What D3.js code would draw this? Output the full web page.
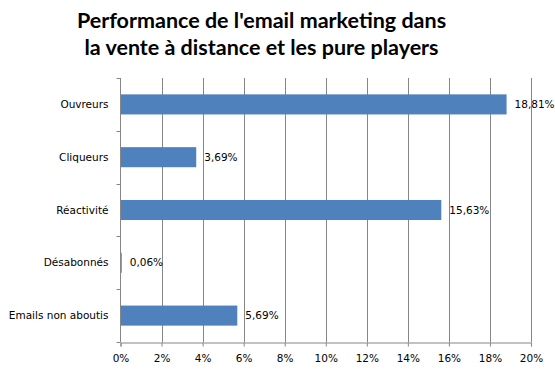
<!DOCTYPE html>
<html>
<head>
	<meta charset="utf-8">
	<title>Performance email marketing</title>
	<script src="https://cdn.jsdelivr.net/npm/d3@7"></script>
	<style>
		body { margin: 0; background: #fff; }
	</style>
</head>
<body>
	<div id="chart"></div>
	<script>

	// data
	const categories = ["Ouvreurs", "Cliqueurs", "Réactivité", "Désabonnés", "Emails non aboutis"];
	const values     = [18.81, 3.69, 15.63, 0.06, 5.69];
	const valueLabels = ["18,81%", "3,69%", "15,63%", "0,06%", "5,69%"];
	const xTicks     = [0, 2, 4, 6, 8, 10, 12, 14, 16, 18, 20];
	const titleLines = ["Performance de l'email marketing dans", "la vente à distance et les pure players"];

	const width  = 555;
	const height = 372;
	const margin = { top: 78, right: 24, bottom: 30, left: 120.5 };
	const barColor  = "#4f81bd";
	const gridColor = "#868686";
	const labelFont = "'DejaVu Sans', sans-serif";

	const svg = d3.select("#chart")
		.append("svg")
		.attr("width", width)
		.attr("height", height);

	svg.append("g")
		.selectAll("text")
		.data(titleLines)
		.join("text")
		.attr("x", 261.5)
		.attr("y", (d, i) => 28 + i * 27)
		.attr("text-anchor", "middle")
		.attr("font-family", "Lato, sans-serif")
		.attr("font-weight", "bold")
		.attr("font-size", 21.5)
		.attr("fill", "#000")
		.text(d => d);

	const x = d3.scaleLinear()
		.domain([0, 20])
		.range([margin.left, width - margin.right]);

	const y = d3.scaleBand()
		.domain(categories)
		.range([margin.top, height - margin.bottom])
		.paddingInner(0.62)
		.paddingOuter(0.31);

	// gridlines
	svg.append("g")
		.selectAll("line")
		.data(xTicks.slice(1))
		.join("line")
		.attr("x1", d => Math.round(x(d)) + 0.5)
		.attr("x2", d => Math.round(x(d)) + 0.5)
		.attr("y1", margin.top)
		.attr("y2", height - margin.bottom)
		.attr("stroke", gridColor);

	// bars
	svg.append("g")
		.selectAll("rect")
		.data(values)
		.join("rect")
		.attr("x", x(0))
		.attr("y", (d, i) => y(categories[i]))
		.attr("width", d => x(d) - x(0))
		.attr("height", y.bandwidth())
		.attr("fill", barColor);

	// value labels
	svg.append("g")
		.selectAll("text")
		.data(values)
		.join("text")
		.attr("x", d => x(d) + 8)
		.attr("y", (d, i) => y(categories[i]) + y.bandwidth() / 2)
		.attr("dy", "0.35em")
		.attr("font-family", labelFont)
		.attr("font-size", 10.5)
		.attr("fill", "#000")
		.text((d, i) => valueLabels[i]);

	// x axis
	const xAxis = svg.append("g")
		.attr("transform", `translate(0,${height - margin.bottom + 0.5})`)
		.call(d3.axisBottom(x)
			.tickValues(xTicks)
			.tickSize(4)
			.tickFormat(d => d + "%"));
	xAxis.select(".domain").attr("stroke", gridColor);
	xAxis.selectAll(".tick line").attr("stroke", gridColor);
	xAxis.selectAll(".tick text")
		.attr("font-family", labelFont)
		.attr("font-size", 10.5)
		.attr("fill", "#000")
		.attr("dy", "1.15em");

	// y axis: ticks sit between categories
	const step = y.step();
	const yAxis = svg.append("g");
	yAxis.append("line")
		.attr("x1", margin.left)
		.attr("x2", margin.left)
		.attr("y1", margin.top)
		.attr("y2", height - margin.bottom)
		.attr("stroke", gridColor);
	yAxis.selectAll("line.tk")
		.data(d3.range(categories.length + 1))
		.join("line")
		.attr("class", "tk")
		.attr("x1", margin.left - 4)
		.attr("x2", margin.left)
		.attr("y1", i => Math.round(margin.top + i * step) + 0.5)
		.attr("y2", i => Math.round(margin.top + i * step) + 0.5)
		.attr("stroke", gridColor);
	yAxis.selectAll("text")
		.data(categories)
		.join("text")
		.attr("x", margin.left - 12)
		.attr("y", d => y(d) + y.bandwidth() / 2)
		.attr("dy", "0.35em")
		.attr("text-anchor", "end")
		.attr("font-family", labelFont)
		.attr("font-size", 10.5)
		.attr("fill", "#000")
		.text(d => d);

	</script>
</body>
</html>
